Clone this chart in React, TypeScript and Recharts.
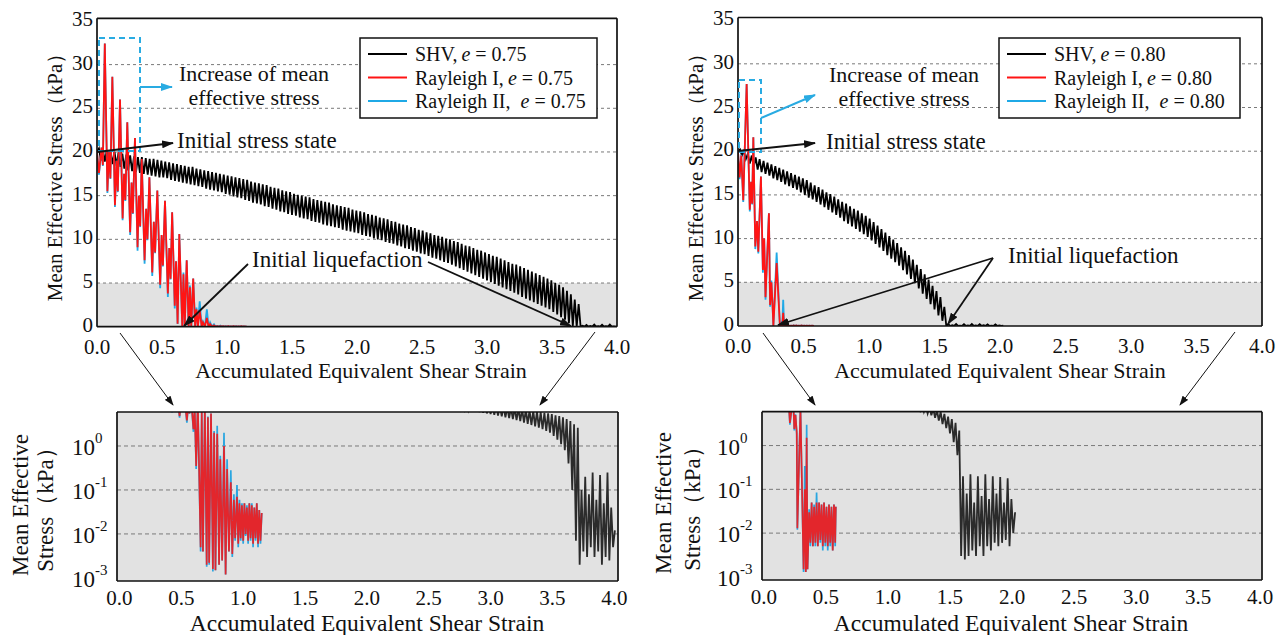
import React from 'react';
import { LineChart, Line, XAxis, YAxis, ReferenceLine, ReferenceArea } from 'recharts';

const FONT = '"Liberation Serif","Times New Roman",Times,serif';

// ---------- axis ticks ----------
const xTicks = [0, 0.5, 1.0, 1.5, 2.0, 2.5, 3.0, 3.5, 4.0];
const yTicksLin = [0, 5, 10, 15, 20, 25, 30, 35];
const yTicksLog = [0.001, 0.01, 0.1, 1];
const gridLin = [5, 10, 15, 20, 25, 30];
const gridLog = [0.01, 0.1, 1];

// ---------- shared strain grid for SHV series (accumulated equivalent shear strain) ----------
const strainGrid = [
  0, 0.015, 0.03, 0.045, 0.06, 0.075, 0.09, 0.105, 0.12, 0.135,
  0.15, 0.165, 0.18, 0.195, 0.21, 0.225, 0.24, 0.255, 0.27, 0.285,
  0.3, 0.315, 0.33, 0.345, 0.36, 0.375, 0.39, 0.405, 0.42, 0.435,
  0.45, 0.465, 0.48, 0.495, 0.51, 0.525, 0.54, 0.555, 0.57, 0.585,
  0.6, 0.615, 0.63, 0.645, 0.66, 0.675, 0.69, 0.705, 0.72, 0.735,
  0.75, 0.765, 0.78, 0.795, 0.81, 0.825, 0.84, 0.855, 0.87, 0.885,
  0.9, 0.915, 0.93, 0.945, 0.96, 0.975, 0.99, 1.005, 1.02, 1.035,
  1.05, 1.065, 1.08, 1.095, 1.11, 1.125, 1.14, 1.155, 1.17, 1.185,
  1.2, 1.215, 1.23, 1.245, 1.26, 1.275, 1.29, 1.305, 1.32, 1.335,
  1.35, 1.365, 1.38, 1.395, 1.41, 1.425, 1.44, 1.455, 1.47, 1.485,
  1.5, 1.515, 1.53, 1.545, 1.56, 1.575, 1.59, 1.605, 1.62, 1.635,
  1.65, 1.665, 1.68, 1.695, 1.71, 1.725, 1.74, 1.755, 1.77, 1.785,
  1.8, 1.815, 1.83, 1.845, 1.86, 1.875, 1.89, 1.905, 1.92, 1.935,
  1.95, 1.965, 1.98, 1.995, 2.01, 2.025, 2.04, 2.055, 2.07, 2.085,
  2.1, 2.115, 2.13, 2.145, 2.16, 2.175, 2.19, 2.205, 2.22, 2.235,
  2.25, 2.265, 2.28, 2.295, 2.31, 2.325, 2.34, 2.355, 2.37, 2.385,
  2.4, 2.415, 2.43, 2.445, 2.46, 2.475, 2.49, 2.505, 2.52, 2.535,
  2.55, 2.565, 2.58, 2.595, 2.61, 2.625, 2.64, 2.655, 2.67, 2.685,
  2.7, 2.715, 2.73, 2.745, 2.76, 2.775, 2.79, 2.805, 2.82, 2.835,
  2.85, 2.865, 2.88, 2.895, 2.91, 2.925, 2.94, 2.955, 2.97, 2.985,
  3.0, 3.015, 3.03, 3.045, 3.06, 3.075, 3.09, 3.105, 3.12, 3.135,
  3.15, 3.165, 3.18, 3.195, 3.21, 3.225, 3.24, 3.255, 3.27, 3.285,
  3.3, 3.315, 3.33, 3.345, 3.36, 3.375, 3.39, 3.405, 3.42, 3.435,
  3.45, 3.465, 3.48, 3.495, 3.51, 3.525, 3.54, 3.555, 3.57, 3.585,
  3.6, 3.615, 3.63, 3.645, 3.66, 3.675, 3.69, 3.705, 3.72, 3.735,
  3.75, 3.765, 3.78, 3.795, 3.81, 3.825, 3.84, 3.855, 3.87, 3.885,
  3.9, 3.915, 3.93, 3.945, 3.96, 3.975, 3.99, 4.005,
];

// SHV, e = 0.75 : mean effective stress (kPa) on strainGrid
const shv075 = [
  20.0, 20.4, 19.0, 20.3, 18.9, 20.2, 18.7, 20.1, 18.6, 20.0,
  18.4, 19.9, 18.3, 19.8, 18.1, 19.7, 17.9, 19.6, 17.8, 19.5,
  17.7, 19.4, 17.6, 19.4, 17.5, 19.3, 17.4, 19.2, 17.3, 19.2,
  17.2, 19.1, 17.1, 19.0, 17.1, 18.9, 17.0, 18.8, 16.8, 18.7,
  16.7, 18.6, 16.6, 18.5, 16.5, 18.4, 16.4, 18.3, 16.3, 18.3,
  16.2, 18.1, 16.1, 18.0, 16.0, 17.9, 15.8, 17.8, 15.7, 17.7,
  15.6, 17.6, 15.5, 17.5, 15.4, 17.4, 15.2, 17.3, 15.1, 17.2,
  14.9, 17.1, 14.8, 17.0, 14.7, 16.9, 14.5, 16.8, 14.4, 16.6,
  14.2, 16.5, 14.1, 16.4, 14.0, 16.3, 13.8, 16.2, 13.7, 16.0,
  13.5, 15.9, 13.4, 15.8, 13.2, 15.6, 13.1, 15.5, 12.9, 15.4,
  12.8, 15.2, 12.7, 15.1, 12.5, 15.0, 12.4, 14.9, 12.3, 14.8,
  12.1, 14.6, 12.0, 14.5, 11.9, 14.4, 11.7, 14.3, 11.6, 14.2,
  11.5, 14.0, 11.4, 13.9, 11.3, 13.8, 11.1, 13.7, 11.0, 13.6,
  10.9, 13.4, 10.8, 13.3, 10.7, 13.2, 10.5, 13.1, 10.4, 12.9,
  10.3, 12.8, 10.1, 12.7, 10.0, 12.5, 9.9, 12.4, 9.7, 12.3,
  9.6, 12.1, 9.5, 12.0, 9.3, 11.8, 9.2, 11.7, 9.0, 11.6,
  8.9, 11.4, 8.7, 11.3, 8.6, 11.1, 8.4, 11.0, 8.3, 10.8,
  8.1, 10.7, 7.9, 10.5, 7.8, 10.4, 7.6, 10.3, 7.4, 10.1,
  7.3, 10.0, 7.1, 9.8, 6.9, 9.7, 6.7, 9.5, 6.5, 9.3,
  6.3, 9.2, 6.1, 9.0, 5.9, 8.8, 5.7, 8.7, 5.5, 8.5,
  5.3, 8.3, 5.1, 8.1, 4.9, 8.0, 4.7, 7.8, 4.5, 7.6,
  4.3, 7.4, 4.1, 7.2, 3.9, 7.1, 3.7, 6.9, 3.4, 6.7,
  3.2, 6.5, 3.0, 6.3, 2.8, 6.1, 2.6, 5.9, 2.4, 5.7,
  2.2, 5.5, 2.0, 5.3, 1.7, 5.0, 1.4, 4.8, 1.1, 4.5,
  0.8, 4.1, 0.4, 3.7, 0.1, 3.1, 0.007, 2.6, 0.002, 0.1,
  0.004, 0.2, 0.003, 0.08, 0.005, 0.25, 0.003, 0.06, 0.004, 0.22,
  0.002, 0.05, 0.003, 0.25, 0.0025, 0.04, 0.005, 0.012,
];

// SHV, e = 0.80 : mean effective stress (kPa) on strainGrid (first entries)
const shv080 = [
  20.0, 20.2, 19.5, 20.0, 19.1, 19.7, 18.6, 19.5, 18.2, 19.3,
  17.9, 19.1, 17.6, 18.9, 17.4, 18.7, 17.2, 18.5, 16.9, 18.3,
  16.7, 18.1, 16.5, 17.9, 16.2, 17.7, 16.0, 17.5, 15.8, 17.3,
  15.6, 17.1, 15.3, 16.9, 15.0, 16.7, 14.7, 16.4, 14.5, 16.1,
  14.2, 15.9, 13.9, 15.6, 13.6, 15.3, 13.3, 15.1, 13.0, 14.8,
  12.7, 14.5, 12.4, 14.2, 12.0, 14.0, 11.7, 13.7, 11.4, 13.4,
  11.1, 13.2, 10.8, 12.9, 10.5, 12.6, 10.2, 12.3, 9.8, 11.9,
  9.4, 11.5, 9.0, 11.1, 8.6, 10.7, 8.1, 10.3, 7.7, 9.9,
  7.3, 9.5, 6.9, 9.0, 6.4, 8.6, 5.9, 8.1, 5.4, 7.6,
  4.9, 7.0, 4.3, 6.5, 3.7, 5.9, 3.1, 5.3, 2.5, 4.6,
  1.9, 4.0, 1.2, 3.3, 0.6, 2.2, 0.003, 0.2, 0.0025, 0.08,
  0.003, 0.22, 0.004, 0.05, 0.003, 0.2, 0.005, 0.07, 0.003, 0.22,
  0.005, 0.06, 0.004, 0.2, 0.006, 0.08, 0.005, 0.19, 0.006, 0.05,
  0.007, 0.18, 0.005, 0.06, 0.01, 0.03,
];

// Rayleigh I / II, e = 0.75
const ray075X = [
  0.000, 0.015, 0.035, 0.045, 0.060, 0.080, 0.092, 0.103, 0.118, 0.138,
  0.150, 0.160, 0.177, 0.197, 0.208, 0.218, 0.233, 0.255, 0.266, 0.276,
  0.292, 0.312, 0.322, 0.332, 0.344, 0.366, 0.378, 0.388, 0.403, 0.425,
  0.437, 0.447, 0.464, 0.486, 0.497, 0.507, 0.523, 0.545, 0.556, 0.566,
  0.578, 0.598, 0.608, 0.620, 0.633, 0.656, 0.665, 0.675, 0.690, 0.705,
  0.715, 0.725, 0.740, 0.755, 0.765, 0.776, 0.790, 0.805, 0.815, 0.830,
  0.845, 0.858, 0.870, 0.885, 0.900, 0.912, 0.925, 0.935, 0.950, 0.960,
  0.970, 0.980, 0.990, 1.000, 1.010, 1.020, 1.030, 1.040, 1.050, 1.060,
  1.070, 1.080, 1.090, 1.100, 1.110, 1.120, 1.130, 1.140, 1.150,
];
const ray1_075 = [
  20.0, 17.6, 20.5, 18.5, 32.4, 15.5, 20.0, 17.0, 28.6, 13.9,
  19.0, 15.5, 26.0, 12.4, 17.5, 14.5, 23.4, 10.8, 16.5, 13.0,
  21.6, 9.1, 15.0, 11.5, 19.2, 7.6, 13.5, 10.0, 17.1, 6.2,
  12.0, 8.5, 15.6, 4.8, 10.5, 7.0, 14.4, 3.8, 9.0, 5.5,
  13.1, 2.4, 7.5, 0.35, 10.6, 0.005, 6.0, 0.004, 7.6, 0.002,
  4.5, 0.0022, 5.5, 0.0016, 2.0, 0.0015, 1.9, 0.002, 0.5, 0.0025,
  1.0, 0.0012, 0.3, 0.004, 0.15, 0.0035, 0.06, 0.008, 0.07, 0.006,
  0.05, 0.008, 0.045, 0.007, 0.05, 0.01, 0.04, 0.007, 0.05, 0.008,
  0.045, 0.006, 0.04, 0.008, 0.05, 0.006, 0.035, 0.007, 0.03,
];
const ray2_075 = [
  20.0, 17.4, 20.5, 18.4, 32.4, 15.3, 20.0, 16.9, 28.6, 13.7,
  19.0, 15.4, 26.0, 12.2, 17.5, 14.4, 23.4, 10.5, 16.5, 12.9,
  21.6, 8.7, 15.0, 11.4, 19.2, 7.2, 13.5, 9.9, 17.1, 5.8,
  12.0, 8.4, 15.6, 4.4, 10.5, 6.9, 14.4, 3.4, 9.0, 5.4,
  13.1, 2.1, 7.5, 0.3, 10.6, 0.004, 6.2, 0.004, 7.6, 0.0018,
  4.7, 0.002, 5.5, 0.0014, 2.2, 0.0015, 2.9, 0.002, 0.6, 0.0025,
  2.0, 0.0012, 0.5, 0.004, 0.28, 0.003, 0.08, 0.007, 0.13, 0.005,
  0.06, 0.007, 0.05, 0.006, 0.05, 0.009, 0.045, 0.006, 0.05, 0.007,
  0.05, 0.005, 0.04, 0.007, 0.05, 0.005, 0.035, 0.006, 0.03,
];

// Rayleigh I / II, e = 0.80
const ray080X = [
  0.000, 0.012, 0.025, 0.040, 0.066, 0.090, 0.100, 0.108, 0.117, 0.132,
  0.145, 0.155, 0.175, 0.190, 0.200, 0.210, 0.236, 0.245, 0.255, 0.265,
  0.270, 0.295, 0.320, 0.330, 0.338, 0.345, 0.352, 0.365, 0.375, 0.385,
  0.395, 0.405, 0.415, 0.425, 0.435, 0.445, 0.455, 0.465, 0.475, 0.485,
  0.495, 0.505, 0.515, 0.525, 0.535, 0.545, 0.555, 0.565, 0.575, 0.580,
];
const ray1_080 = [
  20.0, 17.0, 19.5, 14.4, 27.7, 13.3, 16.5, 14.0, 21.6, 9.1,
  12.0, 8.5, 17.1, 6.4, 10.0, 3.3, 12.9, 2.4, 5.0, 2.0,
  0.013, 7.2, 0.0015, 0.1, 0.0013, 1.5, 0.0015, 0.03, 0.006, 0.05,
  0.005, 0.04, 0.006, 0.05, 0.005, 0.05, 0.007, 0.045, 0.005, 0.05,
  0.006, 0.04, 0.005, 0.045, 0.006, 0.04, 0.004, 0.045, 0.006, 0.04,
];
const ray2_080 = [
  20.0, 16.8, 19.6, 14.2, 27.7, 13.1, 16.5, 13.9, 21.6, 8.8,
  12.0, 8.3, 17.1, 6.1, 10.0, 3.0, 12.9, 2.2, 5.2, 1.8,
  0.012, 8.4, 0.0013, 0.34, 0.0013, 3.0, 0.0015, 0.035, 0.005, 0.05,
  0.005, 0.045, 0.005, 0.085, 0.005, 0.05, 0.006, 0.045, 0.004, 0.05,
  0.005, 0.04, 0.004, 0.045, 0.005, 0.04, 0.004, 0.045, 0.005, 0.04,
];

type Pt = { x: number; y: number };
const pts = (xs: number[], ys: number[]): Pt[] => ys.map((y, i) => ({ x: xs[i], y }));

const shv075Pts = pts(strainGrid, shv075);
const shv080Pts = pts(strainGrid, shv080);
const r1075Pts = pts(ray075X, ray1_075);
const r2075Pts = pts(ray075X, ray2_075);
const r1080Pts = pts(ray080X, ray1_080);
const r2080Pts = pts(ray080X, ray2_080);

interface SeriesDef { name: string; data: Pt[]; color: string; width: number }

const serif = { fontFamily: FONT };

const XTick = (p: any) => (
  <text x={p.x} y={p.y} textAnchor="middle" fontFamily={FONT} style={serif} fontSize={21} fill="#111">
    {Number(p.payload.value).toFixed(1)}
  </text>
);
const YTick = (p: any) => (
  <text x={p.x} y={p.y + 5} textAnchor="end" fontFamily={FONT} style={serif} fontSize={21} fill="#111">
    {p.payload.value}
  </text>
);
const LogTick = (p: any) => {
  const e = Math.round(Math.log10(p.payload.value));
  return (
    <text x={p.x} y={p.y + 9} textAnchor="start" fontFamily={FONT} style={serif} fill="#111">
      <tspan fontSize={23}>10</tspan>
      <tspan fontSize={15} dy={-12}>{e}</tspan>
    </text>
  );
};

interface PanelProps {
  left: number; top: number; width: number; height: number;
  margin: { top: number; right: number; bottom: number; left: number };
  xDomain: [number, number]; yDomain: [number, number];
  log?: boolean; series: SeriesDef[]; xTickMargin: number;
}

const EPS = 0.001;

function Panel(props: PanelProps) {
  const { left, top, width, height, margin, xDomain, yDomain, log, series, xTickMargin } = props;
  const frame = { stroke: '#111', strokeWidth: 1.7 };
  const tl = { stroke: '#111', strokeWidth: 1.2 };
  const yScale: any = log ? 'log' : 'linear';
  const yTicks = log ? yTicksLog : yTicksLin;
  const grid = log ? gridLog : gridLin;
  return (
    <div style={{ position: 'absolute', left, top, width, height }}>
      <LineChart width={width} height={height} margin={margin} style={serif}>
        <XAxis xAxisId="x" type="number" dataKey="x" domain={xDomain} allowDataOverflow ticks={xTicks}
          interval={0} height={EPS} tickSize={0} tickMargin={xTickMargin} axisLine={false} tickLine={false} tick={XTick} />
        <XAxis xAxisId="xb" type="number" dataKey="x" domain={xDomain} allowDataOverflow ticks={xTicks}
          interval={0} height={EPS} mirror tickSize={5} tick={false} axisLine={frame} tickLine={tl} />
        <XAxis xAxisId="xt" orientation="top" type="number" dataKey="x" domain={xDomain} allowDataOverflow ticks={xTicks}
          interval={0} height={EPS} mirror tickSize={5} tick={false} axisLine={frame} tickLine={tl} />
        <YAxis yAxisId="y" type="number" scale={yScale} domain={yDomain} allowDataOverflow ticks={yTicks}
          interval={0} width={EPS} tickSize={0} tickMargin={log ? 45 : 4} axisLine={false} tickLine={false}
          tick={log ? LogTick : YTick} />
        <YAxis yAxisId="yl" type="number" scale={yScale} domain={yDomain} allowDataOverflow ticks={yTicks}
          interval={0} width={EPS} mirror tickSize={5} tick={false} axisLine={frame} tickLine={tl} />
        <YAxis yAxisId="yr" orientation="right" type="number" scale={yScale} domain={yDomain} allowDataOverflow ticks={yTicks}
          interval={0} width={EPS} mirror tickSize={5} tick={false} axisLine={frame} tickLine={tl} />
        {log ? (
          <ReferenceArea xAxisId="x" yAxisId="y" x1={xDomain[0]} x2={xDomain[1]} y1={yDomain[0]} y2={yDomain[1]}
            fill="#e2e2e2" fillOpacity={1} stroke="none" ifOverflow="visible" />
        ) : (
          <ReferenceArea xAxisId="x" yAxisId="y" x1={xDomain[0]} x2={xDomain[1]} y1={0} y2={5}
            fill="#e2e2e2" fillOpacity={1} stroke="none" ifOverflow="visible" />
        )}
        {grid.map((v) => (
          <ReferenceLine key={v} xAxisId="x" yAxisId="y" y={v} stroke="#7a7a7a" strokeWidth={1}
            strokeDasharray={log ? '4 3' : '3 3'} />
        ))}
        {series.map((s) => (
          <Line key={s.name} name={s.name} xAxisId="x" yAxisId="y" data={s.data} dataKey="y" type="linear"
            stroke={s.color} strokeWidth={s.width} dot={false} activeDot={false} isAnimationActive={false} />
        ))}
      </LineChart>
    </div>
  );
}

const BLACK = '#000';
const RED = '#ff1414';
const BLUE = '#1fa9e6';
const CYAN = '#29abe2';

const seriesTop075: SeriesDef[] = [
  { name: 'SHV', data: shv075Pts, color: BLACK, width: 1.8 },
  { name: 'Rayleigh II', data: r2075Pts, color: BLUE, width: 1.8 },
  { name: 'Rayleigh I', data: r1075Pts, color: RED, width: 1.8 },
];
const seriesTop080: SeriesDef[] = [
  { name: 'SHV', data: shv080Pts, color: BLACK, width: 1.8 },
  { name: 'Rayleigh II', data: r2080Pts, color: BLUE, width: 1.8 },
  { name: 'Rayleigh I', data: r1080Pts, color: RED, width: 1.8 },
];
const seriesBot075: SeriesDef[] = [
  { name: 'SHV', data: shv075Pts, color: '#2b2b2b', width: 1.8 },
  { name: 'Rayleigh II', data: r2075Pts, color: '#2aa6e0', width: 1.7 },
  { name: 'Rayleigh I', data: r1075Pts, color: '#e3262c', width: 1.7 },
];
const seriesBot080: SeriesDef[] = [
  { name: 'SHV', data: shv080Pts, color: '#2b2b2b', width: 1.8 },
  { name: 'Rayleigh II', data: r2080Pts, color: '#2aa6e0', width: 1.7 },
  { name: 'Rayleigh I', data: r1080Pts, color: '#e3262c', width: 1.7 },
];

const T = (p: any) => <text fontFamily={FONT} fill="#111" {...p} />;

function LegendBox({ x, y, w, e }: { x: number; y: number; w: number; e: string }) {
  const rows = [
    { label: 'SHV,', color: BLACK, gap: 4 },
    { label: 'Rayleigh I,', color: RED, gap: 4 },
    { label: 'Rayleigh II,', color: BLUE, gap: 10 },
  ];
  return (
    <g>
      <rect x={x} y={y} width={w} height={80} fill="#fff" stroke="#111" strokeWidth={1.5} />
      {rows.map((r, i) => (
        <g key={i}>
          <line x1={x + 8} x2={x + 47} y1={y + 16 + i * 23.5} y2={y + 16 + i * 23.5} stroke={r.color} strokeWidth={2} />
          <T x={x + 55} y={y + 23 + i * 23.5} fontSize={20}>
            {r.label}
            <tspan dx={r.gap} fontStyle="italic">e</tspan>
            <tspan> = {e}</tspan>
          </T>
        </g>
      ))}
    </g>
  );
}

function Overlay() {
  const axTitle = 'Accumulated Equivalent Shear Strain';
  return (
    <svg width={1285} height={635} style={{ position: 'absolute', left: 0, top: 0, pointerEvents: 'none' }}>
      <defs>
        <marker id="mk" viewBox="0 0 12 8" refX="11" refY="4" markerWidth="12" markerHeight="8" markerUnits="userSpaceOnUse" orient="auto">
          <path d="M0,0 L12,4 L0,8 z" fill="#111" />
        </marker>
        <marker id="mc" viewBox="0 0 12 8" refX="11" refY="4" markerWidth="12" markerHeight="8" markerUnits="userSpaceOnUse" orient="auto">
          <path d="M0,0 L12,4 L0,8 z" fill={CYAN} />
        </marker>
        <marker id="ms" viewBox="0 0 10 7" refX="9" refY="3.5" markerWidth="10" markerHeight="7" markerUnits="userSpaceOnUse" orient="auto">
          <path d="M0,0 L10,3.5 L0,7 z" fill="#111" />
        </marker>
      </defs>

      {/* axis titles */}
      <T x={361} y={378} fontSize={22} textAnchor="middle">{axTitle}</T>
      <T x={1000} y={378} fontSize={22} textAnchor="middle">{axTitle}</T>
      <T x={367} y={631} fontSize={23.5} textAnchor="middle">{axTitle}</T>
      <T x={1011} y={631} fontSize={23.5} textAnchor="middle">{axTitle}</T>
      <T transform="translate(62,172) rotate(-90)" fontSize={21} textAnchor="middle">Mean Effective Stress（kPa）</T>
      <T transform="translate(703,172) rotate(-90)" fontSize={21} textAnchor="middle">Mean Effective Stress（kPa）</T>
      <T transform="translate(28,505) rotate(-90)" fontSize={23} textAnchor="middle">Mean Effective</T>
      <T transform="translate(53,504) rotate(-90)" fontSize={23} textAnchor="middle">Stress（kPa）</T>
      <T transform="translate(671,503) rotate(-90)" fontSize={23} textAnchor="middle">Mean Effective</T>
      <T transform="translate(700,503) rotate(-90)" fontSize={23} textAnchor="middle">Stress（kPa）</T>

      {/* legends */}
      <LegendBox x={360} y={38} w={237} e="0.75" />
      <LegendBox x={999} y={38} w={241} e="0.80" />

      {/* top-left annotations */}
      <rect x={99} y={38} width={41} height={113} fill="none" stroke={CYAN} strokeWidth={2} strokeDasharray="6 4" />
      <line x1={140} y1={87} x2={172} y2={87} stroke={CYAN} strokeWidth={2} markerEnd="url(#mc)" />
      <T x={254} y={81} fontSize={22} textAnchor="middle">Increase of mean</T>
      <T x={254} y={105} fontSize={22} textAnchor="middle">effective stress</T>
      <line x1={97} y1={152} x2={173} y2={143} stroke="#111" strokeWidth={2} markerEnd="url(#mk)" />
      <T x={177} y={148} fontSize={23}>Initial stress state</T>
      <T x={252} y={267} fontSize={23}>Initial liquefaction</T>
      <line x1={248} y1={264} x2={184} y2={326} stroke="#111" strokeWidth={1.8} markerEnd="url(#mk)" />
      <line x1={428} y1={262} x2={571} y2={326} stroke="#111" strokeWidth={1.8} markerEnd="url(#mk)" />
      <line x1={120} y1={333} x2={173} y2={405} stroke="#111" strokeWidth={1} markerEnd="url(#ms)" />
      <line x1={595} y1={332} x2={540} y2={405} stroke="#111" strokeWidth={1} markerEnd="url(#ms)" />

      {/* top-right annotations */}
      <rect x={739} y={80} width={22} height={72} fill="none" stroke={CYAN} strokeWidth={2} strokeDasharray="6 4" />
      <line x1={761} y1={118} x2={815} y2={95} stroke={CYAN} strokeWidth={2} markerEnd="url(#mc)" />
      <T x={904} y={82} fontSize={22} textAnchor="middle">Increase of mean</T>
      <T x={904} y={106} fontSize={22} textAnchor="middle">effective stress</T>
      <line x1={738} y1={151} x2={815} y2={143} stroke="#111" strokeWidth={2} markerEnd="url(#mk)" />
      <T x={826} y={149} fontSize={23}>Initial stress state</T>
      <T x={1008} y={263} fontSize={23}>Initial liquefaction</T>
      <line x1={993} y1={258} x2={778} y2={325} stroke="#111" strokeWidth={1.8} markerEnd="url(#mk)" />
      <line x1={993} y1={258} x2={948} y2={324} stroke="#111" strokeWidth={1.8} markerEnd="url(#mk)" />
      <line x1={763} y1={333} x2={815} y2={405} stroke="#111" strokeWidth={1} markerEnd="url(#ms)" />
      <line x1={1235} y1={332} x2={1180} y2={405} stroke="#111" strokeWidth={1} markerEnd="url(#ms)" />
    </svg>
  );
}

export default function App() {
  return (
    <div style={{ position: 'absolute', left: 0, top: 0, width: 1285, height: 635, background: '#fff', fontFamily: FONT, overflow: 'hidden' }}>
      <Panel left={0} top={0} width={640} height={380} margin={{ top: 18.3, right: 23, bottom: 53.3, left: 97 }}
        xDomain={[0, 4]} yDomain={[0, 35.3]} series={seriesTop075} xTickMargin={27} />
      <Panel left={640} top={0} width={645} height={380} margin={{ top: 17.5, right: 23, bottom: 54, left: 98 }}
        xDomain={[0, 4]} yDomain={[0, 35.3]} series={seriesTop080} xTickMargin={27} />
      <Panel left={0} top={380} width={640} height={255} margin={{ top: 32, right: 22, bottom: 54, left: 117 }}
        xDomain={[-0.02, 4.03]} yDomain={[0.00085, 5.93]} log series={seriesBot075} xTickMargin={24} />
      <Panel left={640} top={380} width={645} height={255} margin={{ top: 31.7, right: 23, bottom: 55, left: 122 }}
        xDomain={[-0.015, 4.015]} yDomain={[0.00085, 5.93]} log series={seriesBot080} xTickMargin={24} />
      <Overlay />
    </div>
  );
}
